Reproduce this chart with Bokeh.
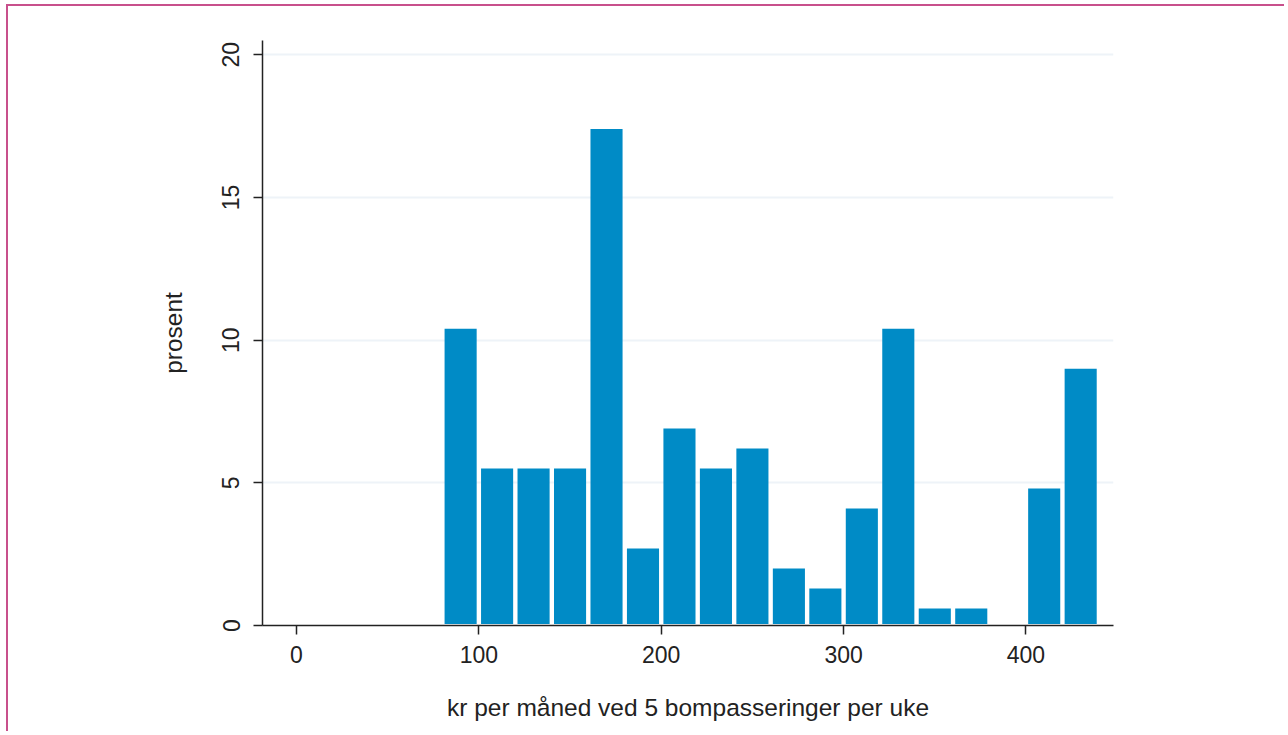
from bokeh.plotting import figure
from bokeh.models import ColumnDataSource, FixedTicker, Range1d
from bokeh.embed import file_html
from bokeh.resources import INLINE

# Histogram data: bin lower edges (kr), bin width 20, percentages
bin_left = [80, 100, 120, 140, 160, 180, 200, 220, 240, 260, 280, 300, 320, 340, 360, 380, 400, 420]
bin_width = 20
percent = [10.4, 5.5, 5.5, 5.5, 17.4, 2.7, 6.9, 5.5, 6.2, 2.0, 1.3, 4.1, 10.4, 0.6, 0.6, 0.0, 4.8, 9.0]
x_ticks = [0, 100, 200, 300, 400]
y_ticks = [0, 5, 10, 15, 20]
x_title = "kr per måned ved 5 bompasseringer per uke"
y_title = "prosent"

centers = [l + bin_width / 2 for l, v in zip(bin_left, percent) if v > 0]
tops = [v for v in percent if v > 0]
src = ColumnDataSource(dict(x=centers, top=tops))

FONT = "Liberation Sans"
TXT = "#222222"

p = figure(width=1278, height=727, output_backend="svg", toolbar_location=None,
           x_range=Range1d(-18.64, 448.0), y_range=Range1d(0, 20.5),
           min_border_left=254, min_border_right=173, min_border_top=34, min_border_bottom=108)
p.styles = {"border-top": "2px solid #C8508C", "border-left": "2px solid #C8508C",
            "margin-left": "6px", "margin-top": "4px"}
p.outline_line_color = None
p.background_fill_color = "white"
p.border_fill_color = "white"

p.vbar(x="x", top="top", bottom=0.05, width=bin_width * 0.88, source=src,
       fill_color="#008BC6", line_color=None)

p.xgrid.visible = False
p.ygrid.ticker = FixedTicker(ticks=y_ticks)
p.ygrid.grid_line_color = "#EEF3F8"
p.ygrid.grid_line_width = 2

for ax in (p.xaxis[0], p.yaxis[0]):
    ax.axis_line_color = TXT
    ax.axis_line_width = 1.5
    ax.major_tick_line_color = TXT
    ax.major_tick_line_width = 1.5
    ax.major_tick_out = 9
    ax.major_tick_in = 0
    ax.minor_tick_line_color = None
    ax.major_label_text_font = FONT
    ax.major_label_text_font_size = "23px"
    ax.major_label_text_color = TXT
    ax.axis_label_text_font = FONT
    ax.axis_label_text_font_size = "24.5px"
    ax.axis_label_text_font_style = "normal"
    ax.axis_label_text_color = TXT

p.xaxis.ticker = FixedTicker(ticks=x_ticks)
p.yaxis.ticker = FixedTicker(ticks=y_ticks)
p.xaxis.axis_label = x_title
p.yaxis.axis_label = y_title
p.yaxis.major_label_orientation = "vertical"
p.xaxis.major_label_standoff = 11
p.yaxis.major_label_standoff = 14
p.xaxis.axis_label_standoff = 28
p.yaxis.axis_label_standoff = 33

open("out.html", "w").write(file_html(p, INLINE))
